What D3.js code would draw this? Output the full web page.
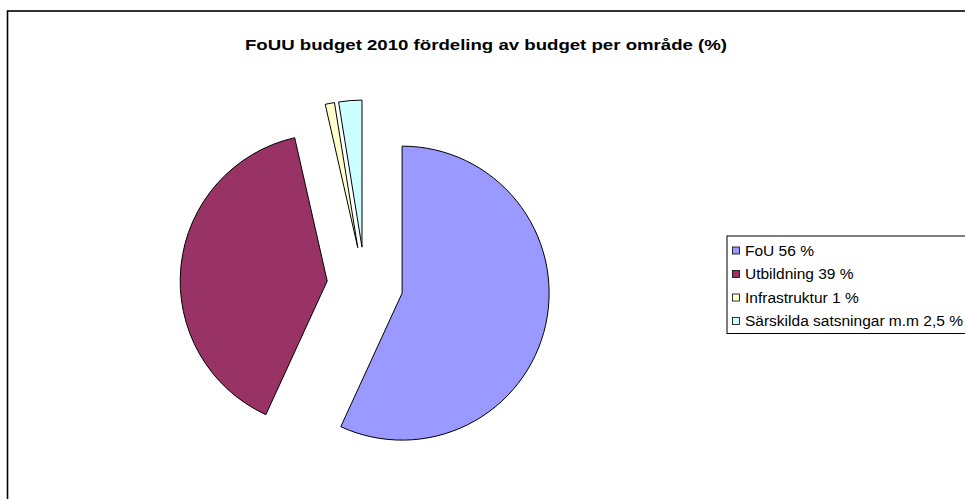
<!DOCTYPE html>
<html>
<head>
<meta charset="utf-8">
<script src="https://cdn.jsdelivr.net/npm/d3@7"></script>
<style>
  body { margin: 0; background: #fff; }
  svg { display: block; font-family: "Liberation Sans", Arial, sans-serif; }
</style>
</head>
<body>
<div id="chart"></div>
<script>
// Data
const categories = ["FoU", "Utbildning", "Infrastruktur", "Särskilda satsningar m.m"];
const values = [56, 39, 1, 2.5];
const legendLabels = ["FoU 56 %", "Utbildning 39 %", "Infrastruktur 1 %", "Särskilda satsningar m.m 2,5 %"];
const colors = ["#9999ff", "#993366", "#ffffcc", "#ccffff"];
const title = "FoUU budget 2010 fördeling av budget per område (%)";

const WIDTH = 965, HEIGHT = 499;
const CENTER = { X: 365, Y: 285 };
const RADIUS = 147;
const EXPLODE = 38;

const svg = d3.select("#chart").append("svg")
    .attr("width", WIDTH)
    .attr("height", HEIGHT);

// chart frame (runs past the right and bottom edge)
svg.append("rect")
    .attr("x", 7.5).attr("y", 11)
    .attr("width", 970).attr("height", 520)
    .attr("fill", "#fff")
    .attr("stroke", "#000")
    .attr("stroke-width", 1.6);

svg.append("text")
    .attr("x", 245).attr("y", 50)
    .attr("font-size", "15px")
    .attr("font-weight", "bold")
    .attr("textLength", 482)
    .attr("lengthAdjust", "spacingAndGlyphs")
    .text(title);

const pie = d3.pie().sort(null).value(d => d.value);
const arc = d3.arc().innerRadius(0).outerRadius(RADIUS);

const slices = pie(categories.map((c, i) => ({ name: c, value: values[i], color: colors[i] })));

const g = svg.append("g")
    .attr("transform", `translate(${CENTER.X}, ${CENTER.Y})`);

// every slice pulled out along its middle angle
g.selectAll("path.slice")
    .data(slices)
    .join("path")
    .attr("class", "slice")
    .attr("d", arc)
    .attr("transform", d => {
        const mid = (d.startAngle + d.endAngle) / 2;
        return `translate(${EXPLODE * Math.sin(mid)}, ${-EXPLODE * Math.cos(mid)})`;
    })
    .attr("fill", d => d.data.color)
    .attr("stroke", "#000")
    .attr("stroke-width", 1)
    .attr("stroke-linejoin", "round");

// Legend
const legend = svg.append("g").attr("transform", "translate(727, 236)");
legend.append("rect")
    .attr("x", 0).attr("y", 0)
    .attr("width", 260).attr("height", 97.5)
    .attr("fill", "#fff")
    .attr("stroke", "#000")
    .attr("stroke-width", 1);

const rows = legend.selectAll("g.item")
    .data(legendLabels)
    .join("g")
    .attr("class", "item")
    .attr("transform", (d, i) => `translate(0, ${14 + i * 23.5})`);

rows.append("rect")
    .attr("x", 5.5).attr("y", -3)
    .attr("width", 7).attr("height", 7)
    .attr("fill", (d, i) => colors[i])
    .attr("stroke", "#000")
    .attr("stroke-width", 0.8);

rows.append("text")
    .attr("x", 18).attr("y", 5.5)
    .attr("font-size", "15.5px")
    .text(d => d);
</script>
</body>
</html>
